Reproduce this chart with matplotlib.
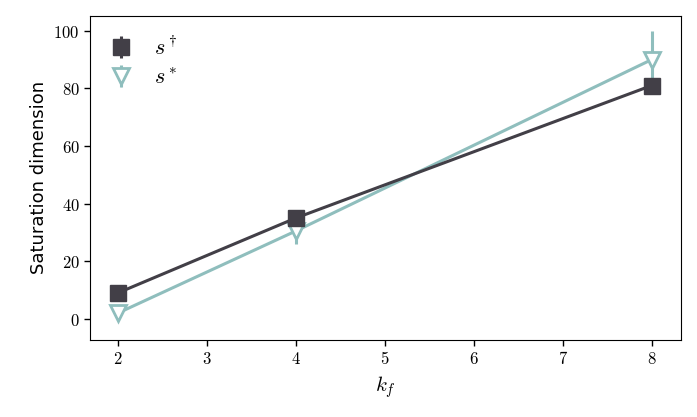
import numpy as np
import matplotlib.pyplot as plt
from matplotlib.ticker import FuncFormatter

plt.rcParams['mathtext.fontset'] = 'cm'
plt.rcParams['font.family'] = ['DejaVu Sans']

# data
k_f = [2, 4, 8]
s_dagger = [9.0, 35.0, 81.0]
s_dagger_err = [1.0, 1.5, 2.0]
s_star = [2.0, 30.5, 90.0]
s_star_err = [1.5, 4.5, 10.0]

dark = '#423f47'
teal = '#8fbebd'

fig, ax = plt.subplots(figsize=(6.97, 4.17), dpi=100)

# connecting lines (no legend entry)
ax.plot(k_f, s_dagger, color=dark, linewidth=2.2, zorder=3)
ax.plot(k_f, s_star, color=teal, linewidth=2.2, zorder=2)

ax.errorbar(k_f, s_dagger, yerr=s_dagger_err, color=dark, fmt='s',
            markersize=11, elinewidth=2.2, capsize=0,
            label=r'$s^\dagger$', zorder=4)
ax.errorbar(k_f, s_star, yerr=s_star_err, color=teal, fmt='v',
            markersize=12, markerfacecolor='white', markeredgewidth=2,
            elinewidth=2.2, capsize=0,
            label=r'$s^*$', zorder=2.5)

ax.set_xlim(1.685, 8.33)
ax.set_ylim(-7.3, 105.2)
ax.set_xticks(range(2, 9))
ax.set_yticks([0, 20, 40, 60, 80, 100])
fmt = FuncFormatter(lambda v, p: f'${v:g}$')
ax.xaxis.set_major_formatter(fmt)
ax.yaxis.set_major_formatter(fmt)
ax.tick_params(labelsize=12, length=4, width=1)

ax.set_xlabel(r'$k_f$', fontsize=15)
ax.set_ylabel('Saturation dimension', fontsize=13)

ax.legend(loc='upper left', frameon=False, fontsize=16, handlelength=1.0,
          handletextpad=1.0, borderaxespad=0.5, labelspacing=0.4)

fig.subplots_adjust(left=0.129, right=0.977, top=0.962, bottom=0.185)
fig.savefig('out.png', dpi=100)
